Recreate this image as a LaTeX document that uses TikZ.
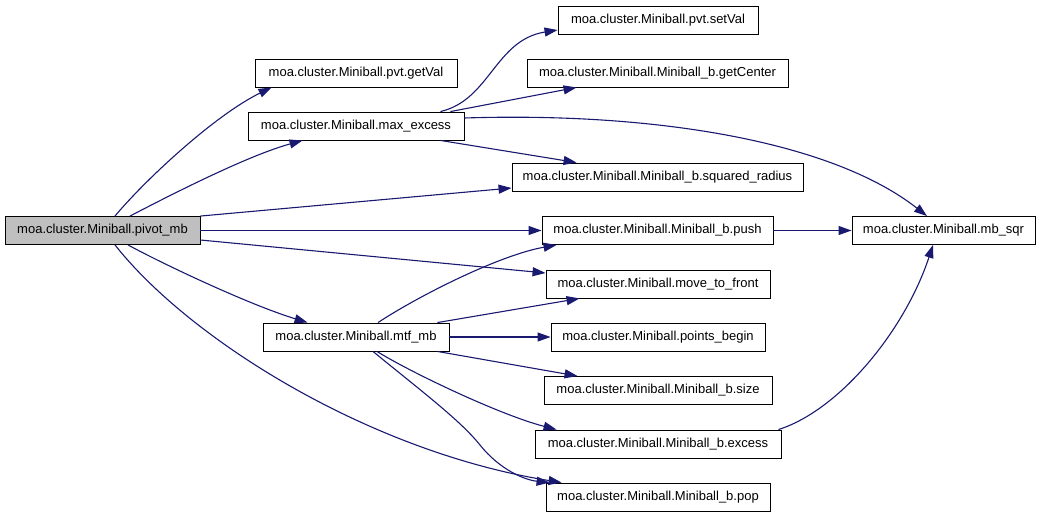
\documentclass[tikz,border=0pt]{standalone}
\usepackage{fontspec}
\setmainfont{Liberation Sans}
\usetikzlibrary{arrows.meta}
\definecolor{edgeblue}{HTML}{191970}
\definecolor{rootgray}{HTML}{BFBFBF}
\begin{document}
\begin{tikzpicture}[x=1pt,y=-1pt,
  fn/.style={draw=black,line width=0.9pt,rectangle,minimum height=28pt,inner sep=0pt,
    font=\fontsize{13}{15}\selectfont,fill=white},
  root/.style={fn,fill=rootgray},
  call/.style={draw=edgeblue,line width=1.1pt,-{Triangle[length=13pt,width=9pt]},fill=none}]
\useasboundingbox (0,0) rectangle (1045,517);
% nodes
\node[root,minimum width=195pt] (pivot) at (102.5,230.5) {moa.cluster.Miniball.pivot\_mb};
\node[fn,minimum width=202pt] (getval) at (356,73) {moa.cluster.Miniball.pvt.getVal};
\node[fn,minimum width=216pt] (maxex) at (356,126) {moa.cluster.Miniball.max\_excess};
\node[fn,minimum width=186pt] (mtf) at (356,337) {moa.cluster.Miniball.mtf\_mb};
\node[fn,minimum width=200pt] (setval) at (658,20) {moa.cluster.Miniball.pvt.setVal};
\node[fn,minimum width=261pt] (getcenter) at (657.5,73) {moa.cluster.Miniball.Miniball\_b.getCenter};
\node[fn,minimum width=291pt] (sqrad) at (657.5,177) {moa.cluster.Miniball.Miniball\_b.squared\_radius};
\node[fn,minimum width=231pt] (push) at (657.5,230.5) {moa.cluster.Miniball.Miniball\_b.push};
\node[fn,minimum width=183pt] (mbsqr) at (943.5,230.5) {moa.cluster.Miniball.mb\_sqr};
\node[fn,minimum width=224pt] (mtfront) at (658,284) {moa.cluster.Miniball.move\_to\_front};
\node[fn,minimum width=214pt] (pbegin) at (658,337) {moa.cluster.Miniball.points\_begin};
\node[fn,minimum width=228pt] (size) at (658,390.5) {moa.cluster.Miniball.Miniball\_b.size};
\node[fn,minimum width=246pt] (excess) at (658,444) {moa.cluster.Miniball.Miniball\_b.excess};
\node[fn,minimum width=224pt] (pop) at (658,497) {moa.cluster.Miniball.Miniball\_b.pop};
% edges from pivot_mb
\draw[call] ([xshift=12.5pt]pivot.north) .. controls (145,180) and (215,115) .. ([xshift=17pt]getval.south west);
\draw[call] ([xshift=27.5pt]pivot.north) .. controls (180,190) and (250,155) .. ([xshift=55pt]maxex.south west);
\draw[call] (pivot.north east) -- ([yshift=-11pt]sqrad.west);
\draw[call] (pivot.east) -- (push.west);
\draw[call] ([yshift=-9.5pt]pivot.east) -- ([yshift=11pt]mtfront.west);
\draw[call] ([xshift=25.5pt]pivot.south) .. controls (165,265) and (250,305) .. ([xshift=45pt]mtf.north west);
\draw[call] ([xshift=12.5pt]pivot.south) .. controls (190,340) and (370,452) .. ([xshift=16pt]pop.north west);
% edges from max_excess
\draw[call] ([xshift=-24pt]maxex.north east) .. controls (490,100) and (495,40) .. ([yshift=-10pt]setval.west);
\draw[call] ([xshift=-14pt]maxex.north east) -- ([xshift=50pt]getcenter.south west);
\draw[call] ([xshift=-24pt]maxex.south east) -- ([xshift=65pt]sqrad.north west);
\draw[call] ([yshift=8pt]maxex.east) .. controls (650,112) and (830,140) .. ([xshift=-16.5pt]mbsqr.north);
% push -> mb_sqr
\draw[call] (push.east) -- (mbsqr.west);
% edges from mtf_mb
\draw[call] ([xshift=22pt]mtf.north) .. controls (420,295) and (500,255) .. ([xshift=15pt]push.south west);
\draw[call] ([xshift=-12pt]mtf.north east) -- ([xshift=34pt]mtfront.south west);
\draw[call] (mtf.east) -- (pbegin.west);
\draw[call] ([xshift=-12pt]mtf.south east) -- ([xshift=34pt]size.north west);
\draw[call] ([xshift=21pt]mtf.south) .. controls (410,372) and (500,415) .. ([xshift=22pt]excess.north west);
\draw[call] ([xshift=17pt]mtf.south) .. controls (420,390) and (460,420) .. (480,445) .. controls (500,470) and (525,480) .. ([xshift=4pt]pop.north west);
% excess -> mb_sqr
\draw[call] ([xshift=-3pt]excess.north east) .. controls (840,410) and (905,330) .. ([xshift=-10.5pt]mbsqr.south);
\end{tikzpicture}
\end{document}
